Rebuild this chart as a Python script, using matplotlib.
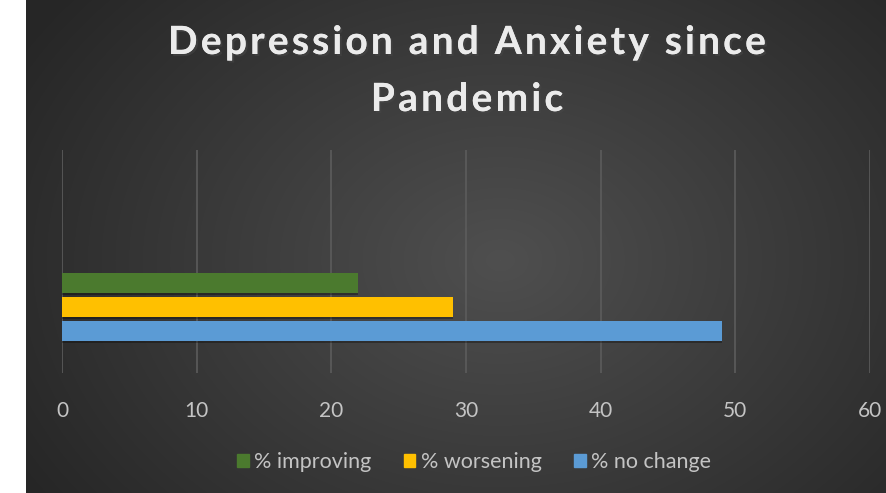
import matplotlib
matplotlib.use('Agg')
import matplotlib.pyplot as plt
import matplotlib.patheffects as pe
from matplotlib.font_manager import FontProperties
import numpy as np

# chart data
series = ['% improving', '% worsening', '% no change']
values = [22, 29, 49]
colors = ['#4b7a2e', '#ffc000', '#5b9bd5']
xticks = [0, 10, 20, 30, 40, 50, 60]
title_lines = ['Depression and Anxiety since', 'Pandemic']

W, H = 886, 493
fig = plt.figure(figsize=(W / 100, H / 100), dpi=100)
fig.patch.set_facecolor('white')

# dark radial background (chart area starts a little in from the left)
bg = fig.add_axes([26 / W, 0, 1 - 26 / W, 1])
bg.set_axis_off()
yy, xx = np.mgrid[0:H, 26:W]
r = np.sqrt(((xx - 500) / 1.0) ** 2 + ((yy - 260) / 0.75) ** 2)
shade = np.clip(1 - r / 560, 0, 1)
level = 0.15 + 0.16 * shade
bg.imshow(np.dstack([level, level, level]), aspect='auto', extent=[0, 1, 0, 1])
bg.set_xlim(0, 1)
bg.set_ylim(0, 1)

ax = fig.add_axes([62 / W, 120 / H, (870 - 62) / W, (373 - 150) / H])
ax.patch.set_alpha(0)

# bars drawn top to bottom: improving, worsening, no change
pos = [1, 0, -1]
for v, p, c in zip(values, pos, colors):
    ax.barh(p - 0.08, v, height=0.83, color='black', alpha=0.3, zorder=2)
    ax.barh(p, v, height=0.83, color=c, zorder=3)

ax.set_xlim(0, 60)
ax.set_ylim(-2.75, 6.54)
ax.set_xticks(xticks)
ax.set_yticks([])
ax.grid(axis='x', color='#5c5c5c', linewidth=1.2, zorder=0)
for s in ax.spines.values():
    s.set_visible(False)
ax.tick_params(axis='x', length=0, pad=20, labelsize=15, labelcolor='#c4c4c4')
for lab in ax.get_xticklabels():
    lab.set_fontfamily('Lato')

# letter-spaced title, placed one glyph at a time
renderer = fig.canvas.get_renderer()
tfont = FontProperties(family='Lato', weight='bold', size=28)
shadow = [pe.withSimplePatchShadow(offset=(1.5, -1.5), alpha=0.6), pe.Normal()]


def char_w(ch):
    w, _, _ = renderer.get_text_width_height_descent(ch, tfont, ismath=False)
    if ch == ' ':
        w2, _, _ = renderer.get_text_width_height_descent('a a', tfont, ismath=False)
        w3, _, _ = renderer.get_text_width_height_descent('aa', tfont, ismath=False)
        w = w2 - w3
    return w


first = title_lines[0]
track = (598 - sum(char_w(ch) for ch in first)) / (len(first) - 1)
for line, base_y in zip(title_lines, [54, 111]):
    widths = [char_w(ch) for ch in line]
    total = sum(widths) + track * (len(line) - 1)
    x = 467 - total / 2
    for ch, w in zip(line, widths):
        if ch != ' ':
            fig.text(x / W, 1 - base_y / H, ch, ha='left', va='baseline',
                     fontproperties=tfont, color='#ebebeb', path_effects=shadow)
        x += w + track

handles = [plt.Rectangle((0, 0), 1, 1, color=c) for c in colors]
fig.legend(handles, series, loc='center', bbox_to_anchor=(0.535, 0.063), ncol=3,
           frameon=False, labelcolor='#c4c4c4', handlelength=0.55,
           handleheight=0.55, handletextpad=0.25, columnspacing=1.5,
           prop={'family': 'Lato', 'size': 15.5})

fig.savefig('out.png', dpi=100)
